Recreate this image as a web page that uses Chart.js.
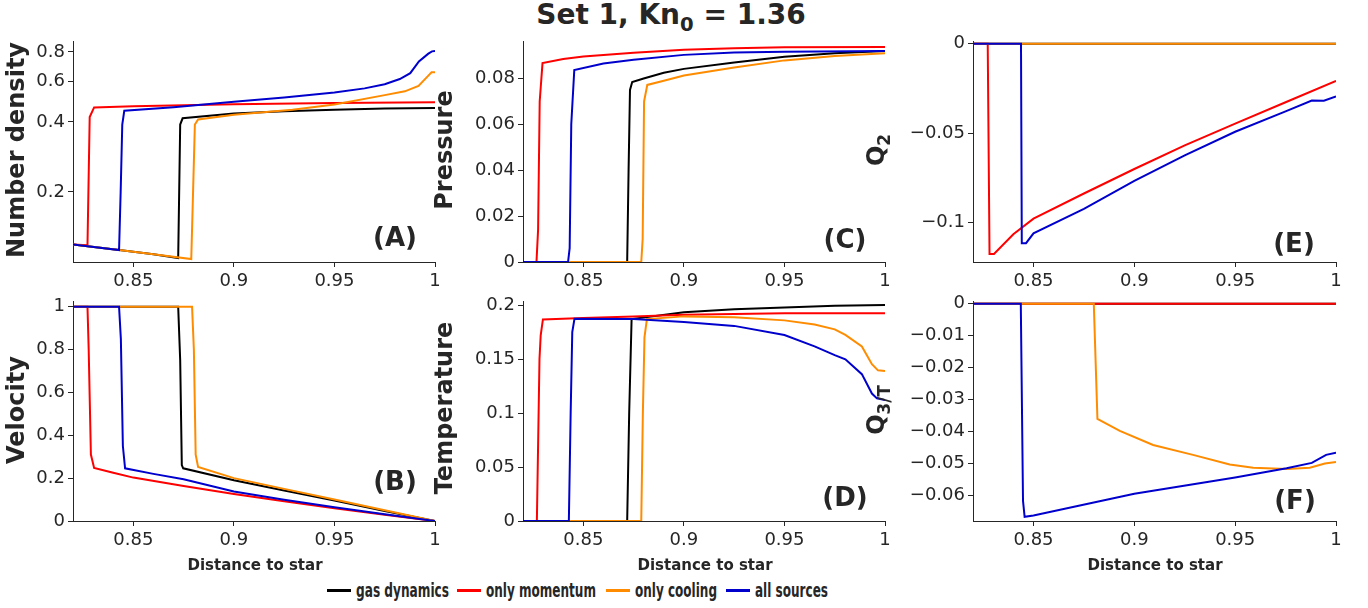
<!DOCTYPE html>
<html>
<head>
<meta charset="utf-8">
<script src="https://cdn.jsdelivr.net/npm/chart.js@4"></script>
<style>
  body { margin: 0; width: 1368px; height: 608px; background: #fff; position: relative; overflow: hidden;
         font-family: 'DejaVu Sans', sans-serif; color: #262626; }
  canvas { position: absolute; }
  .ytitle { position: absolute; font-weight: bold; font-size: 24px; white-space: nowrap;
            transform: translate(-50%, -50%) rotate(-90deg); }
  .plabel { position: absolute; font-weight: bold; font-size: 26px; transform: translate(-50%, -50%); }
  .xtitle { position: absolute; font-weight: bold; font-size: 15px; transform: translate(-50%, -50%); white-space: nowrap; }
  #title { position: absolute; left: 671px; top: 17px; transform: translate(-50%, -50%); font-weight: bold; font-size: 28px; white-space: nowrap; }
  .leg { position: absolute; top: 578px; font-family: 'DejaVu Sans Condensed', 'Liberation Sans Narrow', 'DejaVu Sans', sans-serif;
         font-weight: bold; font-size: 20px; white-space: nowrap; line-height: 24px; }
  .leg .sw { position: absolute; top: 11px; width: 24px; height: 3px; }
  .leg .txt { position: absolute; left: 29px; top: 0; transform-origin: 0 50%; }
  sub { font-size: 70%; }
</style>
</head>
<body>
<div id="title">Set 1, Kn<sub>0</sub> = 1.36</div>

<canvas id="cA" width="447" height="274" style="left:3px;top:28px"></canvas>
<canvas id="cC" width="447" height="274" style="left:453px;top:28px"></canvas>
<canvas id="cE" width="448" height="274" style="left:903px;top:28px"></canvas>
<canvas id="cB" width="447" height="273" style="left:3px;top:288px"></canvas>
<canvas id="cD" width="447" height="273" style="left:453px;top:288px"></canvas>
<canvas id="cF" width="448" height="273" style="left:903px;top:288px"></canvas>

<div class="ytitle" style="left:16px;top:150px">Number density</div>
<div class="ytitle" style="left:444px;top:150px">Pressure</div>
<div class="ytitle" style="left:878px;top:150px">Q<sub>2</sub></div>
<div class="ytitle" style="left:16px;top:410px">Velocity</div>
<div class="ytitle" style="left:444px;top:408px">Temperature</div>
<div class="ytitle" style="left:878px;top:410px">Q<sub>3/T</sub></div>

<div class="plabel" style="left:395px;top:237px">(A)</div>
<div class="plabel" style="left:845px;top:239px">(C)</div>
<div class="plabel" style="left:1294px;top:243px">(E)</div>
<div class="plabel" style="left:395px;top:481px">(B)</div>
<div class="plabel" style="left:845px;top:497px">(D)</div>
<div class="plabel" style="left:1295px;top:500px">(F)</div>

<div class="xtitle" style="left:255px;top:565px">Distance to star</div>
<div class="xtitle" style="left:705px;top:565px">Distance to star</div>
<div class="xtitle" style="left:1155px;top:565px">Distance to star</div>

<script>
// series names and colours
const seriesNames = ['gas dynamics', 'only momentum', 'only cooling', 'all sources'];
const seriesColors = ['#000000', '#ff0000', '#ff8c00', '#0000cd'];

const xTicks = [0.85, 0.9, 0.95, 1];

// (A) number density, log axis
const densGas = [[0.82,0.119],[0.843,0.1125],[0.86,0.108],[0.8723,0.104],[0.8733,0.39],[0.8745,0.415],[0.9,0.435],[0.925,0.445],[0.95,0.452],[0.975,0.457],[1,0.46]];
const densMom = [[0.82,0.119],[0.8272,0.118],[0.8283,0.42],[0.8305,0.462],[0.85,0.468],[0.9,0.477],[0.95,0.483],[1,0.486]];
const densCool = [[0.82,0.119],[0.843,0.1125],[0.86,0.108],[0.8788,0.103],[0.8797,0.2],[0.8806,0.39],[0.8822,0.41],[0.9,0.43],[0.9291,0.452],[0.95,0.476],[0.975,0.522],[0.985,0.542],[0.9918,0.572],[0.9967,0.633],[0.9983,0.654],[1,0.655]];
const densAll = [[0.82,0.119],[0.8429,0.1125],[0.8437,0.2],[0.8445,0.39],[0.8455,0.447],[0.87,0.463],[0.9,0.489],[0.925,0.51],[0.95,0.536],[0.965,0.558],[0.975,0.581],[0.9825,0.612],[0.9877,0.649],[0.992,0.729],[0.9967,0.787],[0.9985,0.805],[1,0.807]];
const densTicks = [0.2, 0.4, 0.6, 0.8];

// (C) pressure
const presGas = [[0.82,0],[0.8718,0],[0.8725,0.04],[0.8732,0.075],[0.8743,0.0785],[0.88,0.08],[0.89,0.0825],[0.9,0.0842],[0.925,0.087],[0.95,0.0895],[0.975,0.091],[1,0.092]];
const presMom = [[0.82,0],[0.8267,0],[0.8275,0.014],[0.8283,0.07],[0.8297,0.0867],[0.84,0.0885],[0.85,0.0896],[0.875,0.0912],[0.9,0.0925],[0.925,0.0932],[0.95,0.0936],[1,0.0937]];
const presCool = [[0.82,0],[0.8788,0],[0.8795,0.01],[0.8802,0.07],[0.8818,0.0772],[0.89,0.079],[0.9,0.0813],[0.925,0.0848],[0.95,0.0879],[0.975,0.0898],[1,0.091]];
const presAll = [[0.82,0],[0.8424,0],[0.8432,0.006],[0.844,0.06],[0.8455,0.0837],[0.86,0.0865],[0.875,0.0882],[0.9,0.0903],[0.925,0.0913],[0.95,0.0917],[1,0.092]];
const presTicks = [0, 0.02, 0.04, 0.06, 0.08];

// (E) Q2
const q2Gas = [[0.82,0],[1,0]];
const q2Mom = [[0.82,0],[0.8273,0],[0.8282,-0.1175],[0.8304,-0.1175],[0.84,-0.1065],[0.85,-0.0978],[0.875,-0.0837],[0.9,-0.07],[0.925,-0.0568],[0.95,-0.0446],[0.975,-0.0327],[1,-0.0207]];
const q2Cool = [[0.82,0],[1,0]];
const q2All = [[0.82,0],[0.8438,0],[0.8442,-0.1115],[0.8463,-0.1115],[0.85,-0.106],[0.875,-0.0923],[0.9,-0.0767],[0.925,-0.0624],[0.95,-0.0492],[0.975,-0.0378],[0.988,-0.0317],[0.994,-0.0318],[1,-0.0295]];
const q2Ticks = [-0.1, -0.05, 0];

// (B) velocity
const velGas = [[0.82,1],[0.8723,1],[0.8733,0.75],[0.8741,0.261],[0.8748,0.246],[0.9,0.19],[0.925,0.142],[0.95,0.095],[0.975,0.047],[1,0]];
const velMom = [[0.82,1],[0.8272,1],[0.8278,0.8],[0.8289,0.31],[0.8305,0.248],[0.84,0.225],[0.85,0.2025],[0.875,0.163],[0.9,0.126],[0.925,0.092],[0.95,0.06],[0.975,0.029],[1,0]];
const velCool = [[0.82,1],[0.8792,1],[0.8801,0.8],[0.881,0.31],[0.8822,0.252],[0.9,0.2],[0.925,0.15],[0.95,0.1],[0.975,0.05],[1,0]];
const velAll = [[0.82,1],[0.8429,1],[0.8438,0.85],[0.8448,0.35],[0.8459,0.246],[0.86,0.22],[0.875,0.195],[0.9,0.138],[0.925,0.099],[0.95,0.064],[0.975,0.031],[1,0]];
const velTicks = [0, 0.2, 0.4, 0.6, 0.8, 1];

// (D) temperature
const tempGas = [[0.82,0],[0.8718,0],[0.8728,0.1],[0.874,0.187],[0.9,0.1933],[0.925,0.196],[0.95,0.1978],[0.975,0.1993],[1,0.2]];
const tempMom = [[0.82,0],[0.8269,0],[0.8282,0.15],[0.8288,0.172],[0.8299,0.1867],[0.85,0.188],[0.875,0.1895],[0.9,0.191],[0.95,0.1925],[1,0.1925]];
const tempCool = [[0.82,0],[0.8788,0],[0.8796,0.1],[0.8804,0.17],[0.8816,0.187],[0.9,0.1895],[0.925,0.1888],[0.95,0.1858],[0.965,0.182],[0.975,0.1775],[0.9803,0.1723],[0.9885,0.1617],[0.9935,0.1452],[0.9965,0.1395],[1,0.139]];
const tempAll = [[0.82,0],[0.8428,0],[0.8437,0.1],[0.8445,0.175],[0.8456,0.1873],[0.875,0.187],[0.9,0.1843],[0.925,0.1807],[0.95,0.1723],[0.965,0.1617],[0.975,0.1536],[0.9803,0.1497],[0.9885,0.136],[0.9935,0.118],[0.996,0.1135],[1,0.112]];
const tempTicks = [0, 0.05, 0.1, 0.15, 0.2];

// (F) Q3/T
const q3Gas = [[0.82,0],[1,0]];
const q3Mom = [[0.82,0],[1,0]];
const q3Cool = [[0.82,0],[0.8799,0],[0.8817,-0.036],[0.8928,-0.0398],[0.9093,-0.0442],[0.9291,-0.0473],[0.9473,-0.0503],[0.9589,-0.0513],[0.9755,-0.0517],[0.987,-0.0513],[0.9945,-0.05],[1,-0.0495]];
const q3All = [[0.82,0],[0.8437,0],[0.8448,-0.0617],[0.8456,-0.0667],[0.85,-0.0663],[0.9,-0.0595],[0.95,-0.0544],[0.9755,-0.0515],[0.988,-0.0498],[0.9951,-0.0473],[1,-0.0466]];
const q3Ticks = [-0.06, -0.05, -0.04, -0.03, -0.02, -0.01, 0];

const ink = '#262626';
const tickFont = { family: 'DejaVu Sans', size: 18 };

function fmt(v) {
  return String(Math.round(v * 1e6) / 1e6).replace('-', '\u2212');
}

function makeChart(id, series, yType, yMin, yMax, yTicks) {
  new Chart(document.getElementById(id), {
    type: 'line',
    data: {
      datasets: series.map((s, i) => ({
        label: seriesNames[i],
        data: s.map(p => ({ x: p[0], y: p[1] })),
        borderColor: seriesColors[i],
        borderWidth: 2,
        pointRadius: 0,
        tension: 0,
        order: 4 - i
      }))
    },
    options: {
      responsive: false,
      animation: false,
      events: [],
      plugins: { legend: { display: false }, tooltip: { enabled: false } },
      layout: { padding: { top: 10, right: 15, left: 0, bottom: 0 } },
      scales: {
        x: {
          type: 'linear', min: 0.82, max: 1,
          afterBuildTicks: s => { s.ticks = xTicks.map(v => ({ value: v })); },
          afterFit: s => { s.height = 40; },
          grid: { drawOnChartArea: false, tickLength: 5, color: ink },
          border: { color: ink },
          ticks: { font: tickFont, color: ink, padding: 4, maxRotation: 0, autoSkip: false, callback: fmt }
        },
        y: {
          type: yType, min: yMin, max: yMax,
          afterBuildTicks: s => { s.ticks = yTicks.map(v => ({ value: v })); },
          afterFit: s => { s.width = 70; },
          grid: { drawOnChartArea: false, tickLength: 5, color: ink },
          border: { color: ink },
          ticks: { font: tickFont, color: ink, padding: 3, autoSkip: false, callback: fmt }
        }
      }
    }
  });
}

makeChart('cA', [densGas, densMom, densCool, densAll], 'logarithmic', 0.1, 0.885, densTicks);
makeChart('cC', [presGas, presMom, presCool, presAll], 'linear', 0, 0.096, presTicks);
makeChart('cE', [q2Gas, q2Mom, q2Cool, q2All], 'linear', -0.122, 0.0011, q2Ticks);
makeChart('cB', [velGas, velMom, velCool, velAll], 'linear', 0, 1.023, velTicks);
makeChart('cD', [tempGas, tempMom, tempCool, tempAll], 'linear', 0, 0.203, tempTicks);
makeChart('cF', [q3Gas, q3Mom, q3Cool, q3All], 'linear', -0.068, 0.000615, q3Ticks);

// legend: each entry placed where the reference has it, text squeezed to a narrow face
const legendLeft = [327, 457, 606, 726];
const legendTextWidth = [93, 110, 82, 73];
seriesNames.forEach((name, i) => {
  const item = document.createElement('div');
  item.className = 'leg';
  item.style.left = legendLeft[i] + 'px';
  item.innerHTML = '<span class="sw" style="background:' + seriesColors[i] + '"></span><span class="txt">' + name + '</span>';
  document.body.appendChild(item);
  const txt = item.querySelector('.txt');
  const w = txt.getBoundingClientRect().width;
  if (w > 0) txt.style.transform = 'scaleX(' + (legendTextWidth[i] / w).toFixed(3) + ')';
});
</script>
</body>
</html>
